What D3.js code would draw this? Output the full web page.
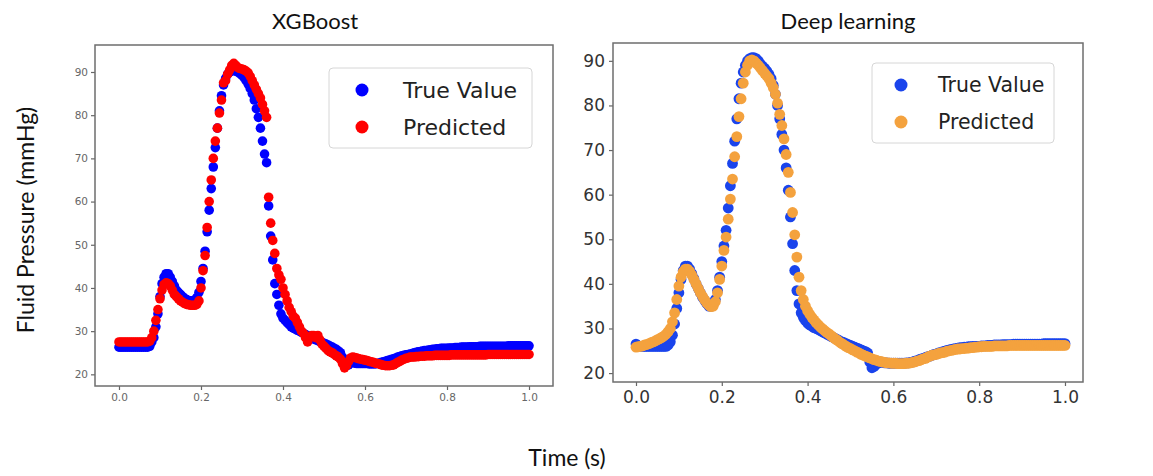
<!DOCTYPE html>
<html><head><meta charset="utf-8">
<script src="https://cdn.jsdelivr.net/npm/d3@7"></script>
<style>body{margin:0;background:#fff}svg{display:block}</style>
</head><body>
<svg id="c" width="1153" height="476"></svg>
<script>
// Time samples (s)
const time = [
0,0.005,0.01,0.015,0.02,0.025,0.03,0.035,0.04,0.045,0.05,0.055,0.06,0.065,0.07,0.075,0.08,0.085,0.09,0.095,
0.1,0.105,0.11,0.115,0.12,0.125,0.13,0.135,0.14,0.145,0.15,0.155,0.16,0.165,0.17,0.175,0.18,0.185,0.19,0.195,
0.2,0.205,0.21,0.215,0.22,0.225,0.23,0.235,0.24,0.245,0.25,0.255,0.26,0.265,0.27,0.275,0.28,0.285,0.29,0.295,
0.3,0.305,0.31,0.315,0.32,0.325,0.33,0.335,0.34,0.345,0.35,0.355,0.36,0.365,0.37,0.375,0.38,0.385,0.39,0.395,
0.4,0.405,0.41,0.415,0.42,0.425,0.43,0.435,0.44,0.445,0.45,0.455,0.46,0.465,0.47,0.475,0.48,0.485,0.49,0.495,
0.5,0.505,0.51,0.515,0.52,0.525,0.53,0.535,0.54,0.545,0.55,0.555,0.56,0.565,0.57,0.575,0.58,0.585,0.59,0.595,
0.6,0.605,0.61,0.615,0.62,0.625,0.63,0.635,0.64,0.645,0.65,0.655,0.66,0.665,0.67,0.675,0.68,0.685,0.69,0.695,
0.7,0.705,0.71,0.715,0.72,0.725,0.73,0.735,0.74,0.745,0.75,0.755,0.76,0.765,0.77,0.775,0.78,0.785,0.79,0.795,
0.8,0.805,0.81,0.815,0.82,0.825,0.83,0.835,0.84,0.845,0.85,0.855,0.86,0.865,0.87,0.875,0.88,0.885,0.89,0.895,
0.9,0.905,0.91,0.915,0.92,0.925,0.93,0.935,0.94,0.945,0.95,0.955,0.96,0.965,0.97,0.975,0.98,0.985,0.99,0.995,
1.0];

// XGBoost panel
const xgbTrue = [
26.3,26.3,26.3,26.3,26.3,26.3,26.3,26.3,26.3,26.3,26.3,26.3,26.3,26.3,26.3,26.5,27.5,28.5,31,34,
38,41,42.5,43.3,43.3,42.5,41.5,40.5,39.5,39,38.5,38,37.6,37.3,37.1,37,37,37.2,37.8,39,
41.5,44.5,48.5,53,58,63,68,72.5,77,81,84.5,87,88.5,89.5,90,90.3,90.3,90.2,90,89.6,
89.2,88.7,88,87.2,86.2,85,83.5,81.5,79.5,77,74,71,69,59,52,46.5,41,38.5,36,34,
33,32.5,32,31.5,31,30.7,30.5,30.2,30,29.7,29.5,29.2,29,28.7,28.5,28.2,28,27.8,27.6,27.4,
27.2,27,26.8,26.5,26.3,26,25.8,25.4,25,24,23,22,22.2,22.7,22.7,22.6,22.5,22.5,22.5,22.5,
22.5,22.5,22.4,22.4,22.4,22.4,22.5,22.6,22.8,22.9,23,23.2,23.3,23.5,23.6,23.8,24,24.1,24.3,24.4,
24.5,24.6,24.7,24.8,25,25.1,25.2,25.3,25.4,25.5,25.5,25.6,25.7,25.8,25.8,25.9,25.9,26,26,26,
26,26.1,26.1,26.1,26.2,26.2,26.2,26.3,26.3,26.3,26.3,26.4,26.4,26.4,26.4,26.4,26.5,26.5,26.5,26.5,
26.5,26.5,26.5,26.5,26.5,26.5,26.5,26.5,26.5,26.5,26.6,26.6,26.6,26.6,26.6,26.6,26.6,26.6,26.6,26.6,
26.6];
const xgbPred = [
27.5,27.5,27.5,27.5,27.5,27.5,27.5,27.5,27.5,27.5,27.5,27.5,27.5,27.5,27.5,27.7,28.5,30,32.5,35,
37.5,39.5,40.8,41.2,41,40.5,39.5,38.5,38,37.5,37,36.7,36.4,36.2,36.1,36,36,36,36.2,37,
40,44,47.5,54,60,65,70,74,77,80.5,83.5,87.5,88,89.5,90.5,91.5,92,91.5,91,90.8,
90.7,90.5,90.2,89.8,89,88,87,86,85,84,82.5,81,79.5,61,55,51,48,44.5,43,42,
40,38.5,37,35.5,34.5,33.5,33,32,31,30,29.5,28.5,27.5,28.5,29,29,28.5,29,28,27,
26.5,26,25.5,25.2,25,24.6,24.3,24,23.5,22.5,21.5,22,23,23.8,24,23.9,23.8,23.6,23.5,23.4,
23.3,23.2,23,22.9,22.8,22.6,22.5,22.4,22.2,22.1,22,22,22,22.1,22.2,22.5,22.8,23,23.3,23.5,
23.7,23.8,24,24,24,24.1,24.1,24.2,24.2,24.2,24.3,24.3,24.3,24.3,24.4,24.4,24.4,24.4,24.4,24.4,
24.4,24.4,24.5,24.5,24.5,24.5,24.5,24.5,24.5,24.5,24.5,24.5,24.5,24.5,24.5,24.5,24.5,24.5,24.5,24.5,
24.6,24.6,24.6,24.6,24.6,24.6,24.6,24.6,24.6,24.6,24.6,24.6,24.6,24.6,24.6,24.6,24.6,24.6,24.6,24.6,
24.6];

// Deep learning panel
const dlTrue = [
26.5,26,26,26,26,26,26,26,26,26,26,26,26,26,26,26.3,27,28.5,31,34.5,
38,41,43,44,44,43.3,42.3,41.2,40,39,38,37,36.3,35.6,35,35,35.5,36.5,38.5,41.5,
45,48.5,52,57,62,67,72,77,81.5,85,87.5,89,90,90.5,90.7,90.7,90.5,90,89.3,88.8,
88.3,87.7,87,86,84.5,82.5,80,77,73.5,70,66,61,55,49,43,38.5,35.5,33.5,32.5,31.8,
31.2,30.8,30.5,30.2,30,29.8,29.5,29.2,29,28.7,28.5,28.2,28,27.7,27.5,27.2,27,26.8,26.6,26.4,
26.2,26,25.8,25.6,25.4,25.2,25,24.8,24.5,22.5,21.2,21.5,22,22.3,22.5,22.4,22.3,22.3,22.2,22.2,
22.2,22.2,22.2,22.2,22.2,22.2,22.3,22.3,22.4,22.5,22.7,22.8,23,23.2,23.3,23.5,23.7,23.8,24,24.2,
24.3,24.5,24.6,24.8,24.9,25.1,25.2,25.3,25.4,25.5,25.6,25.7,25.7,25.8,25.8,25.9,25.9,26,26,26,
26,26.1,26.1,26.1,26.2,26.2,26.2,26.3,26.3,26.3,26.3,26.4,26.4,26.4,26.4,26.4,26.5,26.5,26.5,26.5,
26.5,26.5,26.5,26.5,26.5,26.5,26.5,26.5,26.5,26.5,26.6,26.6,26.6,26.6,26.6,26.6,26.6,26.6,26.6,26.6,
26.6];
const dlPred = [
25.8,25.9,26,26.1,26.3,26.4,26.6,26.8,27,27.2,27.5,27.7,28,28.3,28.7,29.3,30,31.5,33.5,36.5,
39.5,41.5,42.7,43.3,43.3,42.8,42,41,40,39,38,37.2,36.4,35.7,35.2,34.9,35,36,38,41,
44,47.5,50.5,54.5,59,63.5,68.5,73,77.5,81.5,85,87.5,89,90,90.2,90,89.5,89,88.4,87.8,
87.2,86.6,86,85,84,82.5,80.5,78,75.5,72.5,69,65,60.5,56,51,46,41.5,38.5,36.5,35,
34,33.2,32.5,31.9,31.3,30.8,30.3,29.9,29.5,29.1,28.8,28.4,28,27.6,27.3,26.9,26.6,26.3,26,25.7,
25.5,25.2,25,24.7,24.5,24.2,24,23.8,23.6,23.4,23.2,23,22.9,22.7,22.6,22.5,22.4,22.3,22.3,22.2,
22.2,22.2,22.1,22.1,22.1,22.1,22.2,22.2,22.3,22.4,22.5,22.7,22.8,23,23.2,23.3,23.6,23.8,24,24.1,
24.2,24.4,24.5,24.6,24.7,24.9,25,25.1,25.2,25.3,25.4,25.4,25.5,25.5,25.6,25.6,25.7,25.7,25.8,25.8,
25.9,25.9,26,26,26,26,26,26.1,26.1,26.1,26.1,26.1,26.1,26.1,26.2,26.2,26.2,26.2,26.2,26.2,
26.2,26.2,26.2,26.2,26.2,26.2,26.2,26.2,26.2,26.2,26.2,26.2,26.2,26.2,26.2,26.2,26.2,26.2,26.2,26.2,
26.2];

const xTicks = [0, 0.2, 0.4, 0.6, 0.8, 1.0];
const yTicks = [20, 30, 40, 50, 60, 70, 80, 90];
const titles = ["XGBoost", "Deep learning"];
const legendLabels = ["True Value", "Predicted"];

const svg = d3.select("#c");

const panels = [
  { title: titles[0], truth: xgbTrue, pred: xgbPred,
    frame: {x0: 95, x1: 553, y0: 45, y1: 386},
    xDom: [-0.0585, 1.0585], yDom: [17.3, 96.25],
    c1: "#0000ff", c2: "#ff0000", r: 4.8,
    tickFont: 10.5, tickColor: "#666", titleX: 315,
    legend: {x: 329, y: 68, w: 203, h: 80, mx: 362, tx: 403, fs: 22, r: 6.5} },
  { title: titles[1], truth: dlTrue, pred: dlPred,
    frame: {x0: 613, x1: 1083, y0: 43, y1: 382},
    xDom: [-0.0536, 1.042], yDom: [18.0, 94.0],
    c1: "#1a44ec", c2: "#f4a23e", r: 5.4,
    tickFont: 17, tickColor: "#333", titleX: 848,
    legend: {x: 872, y: 63, w: 182, h: 80, mx: 901, tx: 938, fs: 20.5, r: 6.5} }
];

panels.forEach(p => {
  const f = p.frame;
  const x = d3.scaleLinear().domain(p.xDom).range([f.x0, f.x1]);
  const y = d3.scaleLinear().domain(p.yDom).range([f.y1, f.y0]);
  const g = svg.append("g");

  // points
  const series = [{v: p.truth, c: p.c1}, {v: p.pred, c: p.c2}];
  series.forEach(s => {
    g.append("g").selectAll("circle").data(time).join("circle")
      .attr("cx", (t) => x(t))
      .attr("cy", (t, i) => y(s.v[i]))
      .attr("r", p.r)
      .attr("fill", s.c);
  });

  // axes
  const xa = g.append("g").attr("transform", `translate(0,${f.y1})`)
    .call(d3.axisBottom(x).tickValues(xTicks).tickFormat(d3.format(".1f")).tickSize(4).tickPadding(p.tickFont > 12 ? 5 : 4));
  const ya = g.append("g").attr("transform", `translate(${f.x0},0)`)
    .call(d3.axisLeft(y).tickValues(yTicks).tickFormat(d3.format("d")).tickSize(4).tickPadding(p.tickFont > 12 ? 4 : 3));
  [xa, ya].forEach(a => {
    a.select(".domain").remove();
    a.selectAll("line").attr("stroke", "#666").attr("stroke-width", 1.2);
    a.selectAll("text").attr("font-family", "DejaVu Sans, sans-serif")
      .attr("font-size", p.tickFont).attr("fill", p.tickColor);
  });

  // frame
  g.append("rect").attr("x", f.x0).attr("y", f.y0)
    .attr("width", f.x1 - f.x0).attr("height", f.y1 - f.y0)
    .attr("fill", "none").attr("stroke", "#6e6e6e").attr("stroke-width", 1.5);

  // title
  svg.append("text").attr("x", p.titleX).attr("y", 29)
    .attr("text-anchor", "middle").attr("font-family", "Lato, 'Open Sans', sans-serif")
    .attr("font-size", 22).attr("fill", "#111").text(p.title);

  // legend
  const L = p.legend;
  const lg = g.append("g");
  lg.append("rect").attr("x", L.x).attr("y", L.y).attr("width", L.w).attr("height", L.h)
    .attr("rx", 4).attr("fill", "#fff").attr("fill-opacity", 0.85)
    .attr("stroke", "#d6d6d6").attr("stroke-width", 1);
  [p.c1, p.c2].forEach((c, i) => {
    const cy = L.y + 22 + i * 37;
    lg.append("circle").attr("cx", L.mx).attr("cy", cy).attr("r", L.r).attr("fill", c);
    lg.append("text").attr("x", L.tx).attr("y", cy).attr("dy", "0.35em")
      .attr("font-family", "DejaVu Sans, sans-serif").attr("font-size", L.fs)
      .attr("fill", "#222").text(legendLabels[i]);
  });
});

// shared axis labels
svg.append("text").attr("transform", "translate(34,220) rotate(-90)")
  .attr("text-anchor", "middle").attr("font-family", "Lato, 'Open Sans', sans-serif")
  .attr("font-size", 23).attr("fill", "#111").text("Fluid Pressure (mmHg)");
svg.append("text").attr("x", 567).attr("y", 466)
  .attr("text-anchor", "middle").attr("font-family", "Lato, 'Open Sans', sans-serif")
  .attr("font-size", 23).attr("fill", "#111").text("Time (s)");
</script>
</body></html>
